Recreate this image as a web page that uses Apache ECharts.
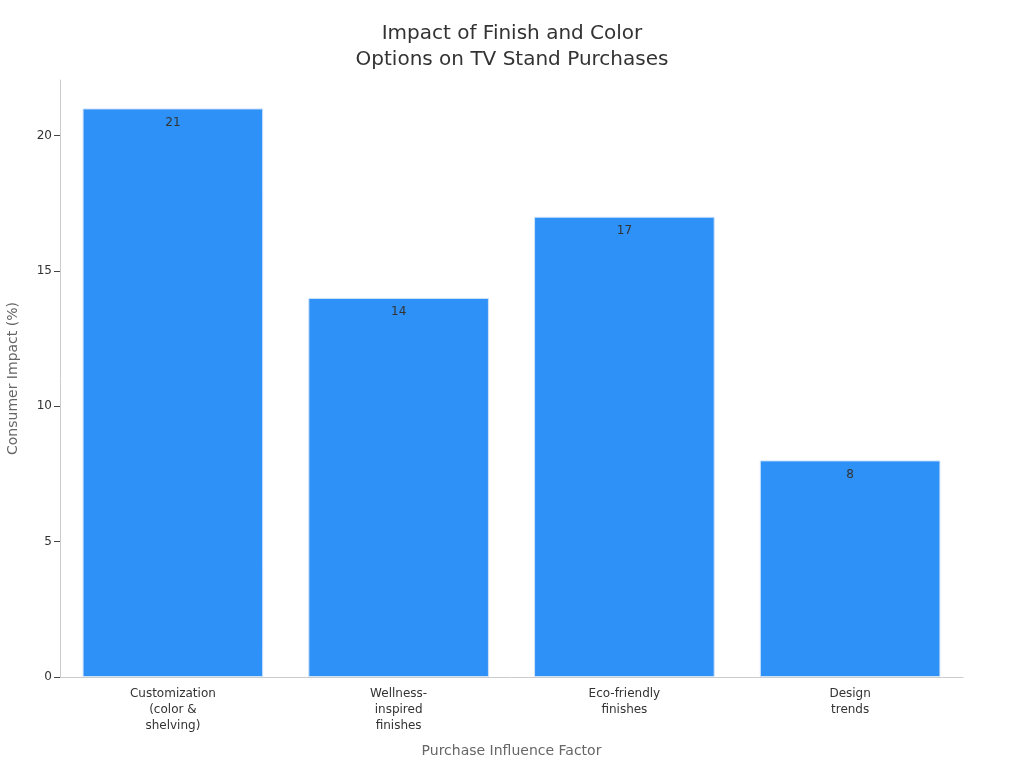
<!DOCTYPE html>
<html>
<head>
<meta charset="utf-8">
<script src="https://cdn.jsdelivr.net/npm/echarts@6/dist/echarts.min.js"></script>
<style>html,body{margin:0;padding:0;background:#fff}#c{width:1024px;height:768px}</style>
</head>
<body>
<div id="c"></div>
<script>
const categories = ["Customization\n(color &\nshelving)", "Wellness-\ninspired\nfinishes", "Eco-friendly\nfinishes", "Design\ntrends"];
const values = [21, 14, 17, 8];
const yTicks = [0, 5, 10, 15, 20];

const chart = echarts.init(document.getElementById('c'), null, {renderer: 'canvas'});
chart.setOption({
  animation: false,
  textStyle: {fontFamily: 'DejaVu Sans'},
  title: {
    text: 'Impact of Finish and Color\nOptions on TV Stand Purchases',
    left: 'center', top: 16,
    textStyle: {fontSize: 20, fontWeight: 'normal', color: '#333', lineHeight: 26, fontFamily: 'DejaVu Sans'}
  },
  grid: {left: 60, right: 61, top: 80, bottom: 91, containLabel: false, outerBoundsMode: 'none'},
  xAxis: {
    type: 'category', data: categories,
    name: 'Purchase Influence Factor', nameLocation: 'middle', nameGap: 67,
    nameTextStyle: {fontSize: 14, color: '#666'},
    axisLine: {lineStyle: {color: '#ccc'}},
    axisTick: {alignWithLabel: true, length: 4, lineStyle: {color: '#999'}},
    axisLabel: {fontSize: 12, color: '#333', lineHeight: 16, margin: 9, interval: 0}
  },
  yAxis: {
    type: 'value', min: 0, max: 22.05,
    name: 'Consumer Impact (%)', nameLocation: 'middle', nameGap: 40,
    nameTextStyle: {fontSize: 14, color: '#666'},
    axisLine: {show: true, lineStyle: {color: '#ccc'}},
    axisTick: {show: true, length: 6, lineStyle: {color: '#444'}, customValues: yTicks},
    axisLabel: {fontSize: 12, color: '#333', margin: 8, customValues: yTicks},
    splitLine: {show: false}
  },
  series: [{
    type: 'bar', data: values, barWidth: '80%',
    itemStyle: {color: '#2e91f8', borderColor: '#cfe3fa', borderWidth: 1},
    label: {show: true, position: 'insideTop', distance: 8, fontSize: 12, color: '#333'}
  }]
});
</script>
</body>
</html>
